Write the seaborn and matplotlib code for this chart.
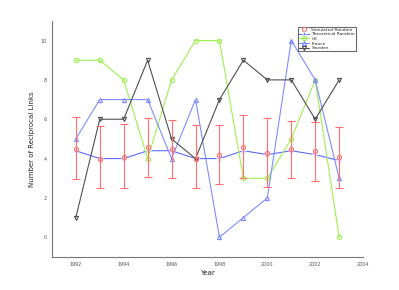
import numpy as np
import pandas as pd
import seaborn as sns
import matplotlib.pyplot as plt
from matplotlib.lines import Line2D

# values
years = list(range(1992, 2004))
sim_mean = [4.5, 4.0, 4.1, 4.6, 4.5, 4.0, 4.2, 4.6, 4.3, 4.5, 4.4, 4.1]
sim_low = [2.95, 2.5, 2.5, 3.05, 3.0, 2.5, 2.7, 3.0, 2.55, 3.0, 2.85, 2.5]
sim_high = [6.1, 5.65, 5.75, 6.05, 5.95, 5.7, 5.7, 6.2, 6.05, 5.9, 5.85, 5.6]
theo = [4.4, 4.0, 4.0, 4.4, 4.4, 4.0, 4.0, 4.4, 4.2, 4.4, 4.2, 3.9]
uk = [9, 9, 8, 4, 8, 10, 10, 3, 3, 5, 8, 0]
france = [5, 7, 7, 7, 4, 7, 0, 1, 2, 10, 8, 3]
sweden = [1, 6, 6, 9, 5, 4, 7, 9, 8, 8, 6, 8]

sns.set_style("white")
plt.rcParams['font.family'] = ['DejaVu Sans']

fig = plt.figure(figsize=(3.99, 2.90), dpi=100)
ax = fig.add_axes([0.130, 0.114, 0.78, 0.814])

red = "#ff6f6f"
blue = "#5a6cff"
lblue = "#7f8cff"
green = "#9df04f"
dark = "#505050"

yerr = [np.array(sim_mean) - np.array(sim_low), np.array(sim_high) - np.array(sim_mean)]
ax.errorbar(years, sim_mean, yerr=yerr, fmt='o', color=red, ms=3, mfc='none',
            mew=0.8, elinewidth=0.8, capsize=3, capthick=0.8, zorder=3)

sns.lineplot(x=years, y=theo, ax=ax, color=blue, marker='*', ms=4, lw=0.8, mew=0.5,
             label="Theoretical Random")
sns.lineplot(x=years, y=uk, ax=ax, color=green, marker='o', ms=3, lw=0.8, mfc='none',
             mew=0.8, mec=green, label="UK")
sns.lineplot(x=years, y=france, ax=ax, color=lblue, marker='^', ms=3, lw=0.8, mfc='none',
             mew=0.8, mec=lblue, label="France")
sns.lineplot(x=years, y=sweden, ax=ax, color=dark, marker='v', ms=3, lw=0.8, mfc='none',
             mew=0.8, mec=dark, label="Sweden")

ax.set_xlim(1991, 2004)
ax.set_ylim(-1, 11)
ax.set_xticks(range(1992, 2005, 2))
ax.set_yticks(range(0, 11, 2))
ax.tick_params(labelsize=3.5, length=2, width=0.5, colors="#555555", direction='in')
for s in ['top', 'right']:
    ax.spines[s].set_visible(False)
for s in ['left', 'bottom']:
    ax.spines[s].set_color("#777777")
    ax.spines[s].set_linewidth(0.8)

ax.set_xlabel("Year", fontsize=5, labelpad=2)
ax.set_ylabel("Number of Reciprocal Links", fontsize=5, labelpad=4)

handles, labels = ax.get_legend_handles_labels()
sim_handle = Line2D([], [], ls='none', marker='o', ms=3, mfc='none', mec=red, mew=0.8)
leg = ax.legend([sim_handle] + handles, ["Simulated Random"] + labels,
                loc='upper right', bbox_to_anchor=(0.985, 0.985), fontsize=3.2,
                frameon=True, fancybox=False, edgecolor="#444444", borderpad=0.25,
                labelspacing=0.1, handlelength=2.2, handletextpad=0.6)
leg.get_frame().set_linewidth(0.8)

fig.savefig("out.png", dpi=100)
